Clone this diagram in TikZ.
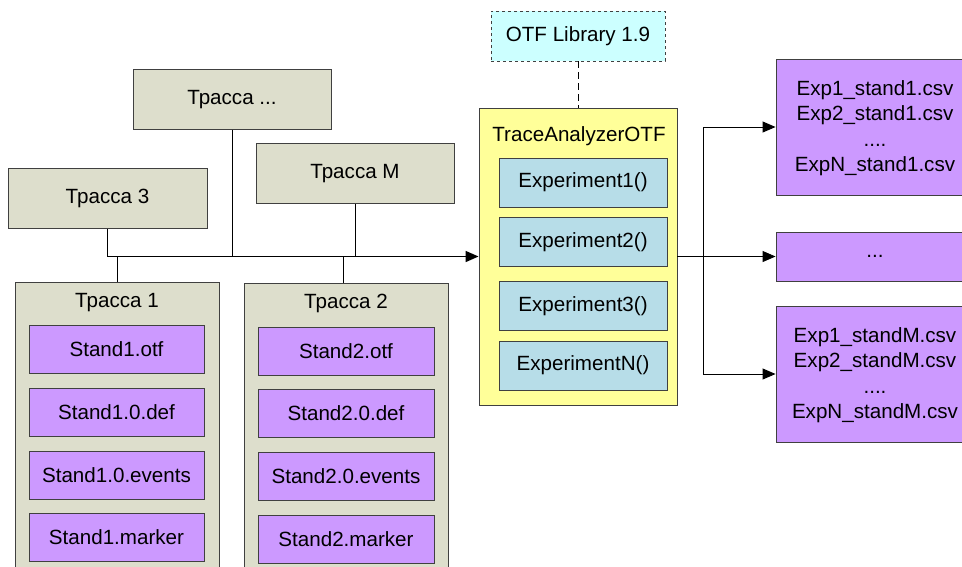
\documentclass[tikz,border=0pt]{standalone}
\usepackage{fontspec}
\setmainfont{Liberation Sans}
\usetikzlibrary{arrows.meta}
\definecolor{trc}{RGB}{221,222,204}
\definecolor{purp}{RGB}{204,153,255}
\definecolor{lblue}{RGB}{183,221,232}
\definecolor{yel}{RGB}{255,255,153}
\definecolor{cyn}{RGB}{204,255,255}
\definecolor{edge}{RGB}{64,64,64}
\begin{document}
\begin{tikzpicture}[x=1pt,y=-1pt,
  font=\fontsize{20.6}{25.3}\selectfont,
  box/.style={draw=edge, line width=0.9pt, inner sep=0pt, align=center},
  trbox/.style={box, fill=trc, minimum width=198pt, minimum height=60pt},
  stbox/.style={box, fill=purp, minimum width=175pt, minimum height=48pt},
  exbox/.style={box, fill=lblue, minimum width=168pt, minimum height=49pt},
  outbox/.style={box, fill=purp, minimum width=198pt},
  conn/.style={draw=black, line width=0.9pt},
  bus/.style={draw=black, line width=1.6pt},
  arr/.style={-{Triangle[length=13pt,width=11pt]}}
]
\clip (0,0) rectangle (962,566);
\fill[white] (0,0) rectangle (962,566);

% upper traces
\node[trbox] (trdots) at (232,99.5) {Трасса ...};
\node[trbox] (trM) at (355,173.5) {Трасса M};
\node[trbox, minimum width=199pt] (tr3) at (107.5,198.5) {Трасса 3};

% lower traces (containers)
\node[box, fill=trc, minimum width=204pt, minimum height=320pt, anchor=north] (tr1) at (117,282) {};
\node[anchor=center] (tr1t) at (117,303) {Трасса 1};
\node[box, fill=trc, minimum width=204pt, minimum height=320pt, anchor=north] (tr2) at (346,283) {};
\node[anchor=center] (tr2t) at (346,303.5) {Трасса 2};

\node[stbox] (s1a) at (116.5,349) {Stand1.otf};
\node[stbox] (s1b) at (116.5,412) {Stand1.0.def};
\node[stbox] (s1c) at (116.5,475) {Stand1.0.events};
\node[stbox] (s1d) at (116.5,537.5) {Stand1.marker};

\node[stbox, minimum width=176pt] (s2a) at (346,351) {Stand2.otf};
\node[stbox, minimum width=176pt] (s2b) at (346,413.5) {Stand2.0.def};
\node[stbox, minimum width=176pt] (s2c) at (346,476.5) {Stand2.0.events};
\node[stbox, minimum width=176pt] (s2d) at (346,539.5) {Stand2.marker};

% library and analyzer
\node[box, fill=cyn, dashed, minimum width=174pt, minimum height=50pt] (lib) at (578,36) {OTF Library 1.9};
\node[box, fill=yel, minimum width=198pt, minimum height=297pt] (ta) at (578,256.5) {};
\node (tat) at (579,136) {TraceAnalyzerOTF};
\node[exbox] (e1) at (583,182.5) {Experiment1()};
\node[exbox] (e2) at (583,242) {Experiment2()};
\node[exbox] (e3) at (583,306) {Experiment3()};
\node[exbox] (eN) at (583,365.5) {ExperimentN()};

% outputs
\node[outbox, minimum height=136pt, text depth=2pt] (o1) at (875,127) {Exp1\_stand1.csv\\Exp2\_stand1.csv\\....\\ExpN\_stand1.csv};
\node[outbox, minimum height=49pt] (o2) at (875,256.5) {...};
\node[outbox, minimum height=136pt, text depth=2pt] (o3) at (875,374) {Exp1\_standM.csv\\Exp2\_standM.csv\\....\\ExpN\_standM.csv};

% bus
\coordinate (b3) at (107.5,256.5);
\coordinate (b1) at (117,256.5);
\coordinate (bd) at (232,256.5);
\coordinate (b2) at (343,256.5);
\coordinate (bM) at (355,256.5);
\coordinate (t2top) at (343,283);
\draw[conn] (tr3.south) -- (b3) -- (b1);
\draw[bus, arr] (b1) -- (ta.west);
\draw[conn] (trdots.south) -- (bd);
\draw[conn] (trM.south) -- (bM);
\draw[conn] (b1) -- (tr1.north);
\draw[conn] (b2) -- (t2top);

% library link
\draw[conn, dashed, dash pattern=on 7pt off 4pt] (lib.south) -- (ta.north);

% outputs
\coordinate (sp) at (703,256.5);
\draw[bus] (ta.east) -- (sp);
\draw[conn, arr] (sp) -- (o2.west);
\draw[conn, arr] (sp) |- (o1.west);
\draw[conn, arr] (sp) |- (o3.west);
\end{tikzpicture}
\end{document}
